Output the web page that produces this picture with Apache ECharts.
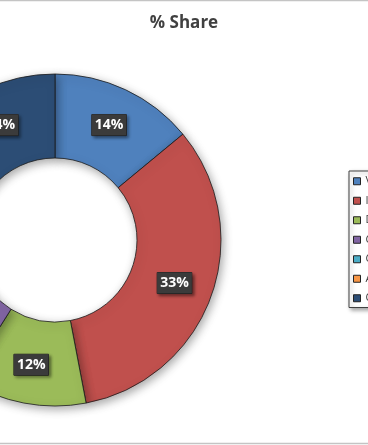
<!DOCTYPE html>
<html>
<head>
<meta charset="utf-8">
<script src="https://cdn.jsdelivr.net/npm/echarts@6/dist/echarts.min.js"></script>
<style>html,body{margin:0;padding:0;background:#fff;}#c{width:368px;height:445px;}</style>
</head>
<body>
<div id="c"></div>
<script>
const categories = ['Vanguard', 'Invesco', 'Dimensional', 'Capital Group', 'Columbia', 'American Funds', 'Others'];
const shares = [14, 33, 12, 5, 9, 13, 14];
const colors = ['#4F81BD', '#C0504D', '#9BBB59', '#8064A2', '#4BACC6', '#F79646', '#2C4D75'];

const chart = echarts.init(document.getElementById('c'), null, {renderer: 'canvas'});
chart.setOption({
  animation: false,
  backgroundColor: '#fff',
  title: {
    text: '% Share',
    left: 'center',
    top: 10,
    textStyle: {fontFamily: 'Open Sans', fontWeight: 'bold', fontSize: 17, color: '#404040'}
  },
  graphic: [{
    type: 'rect', silent: true, z: -1,
    shape: {x: -5, y: 0.5, width: 378, height: 443},
    style: {fill: 'none', stroke: '#c4c4c4', lineWidth: 1.5}
  }],
  legend: {
    orient: 'vertical',
    left: 349, top: 171,
    data: categories,
    icon: 'rect',
    itemWidth: 7, itemHeight: 7,
    itemGap: 7,
    padding: [4, 6, 3, 4],
    backgroundColor: '#fff',
    borderColor: '#404040', borderWidth: 1,
    shadowBlur: 4, shadowColor: 'rgba(0,0,0,0.35)', shadowOffsetX: 2, shadowOffsetY: 2,
    itemStyle: {borderColor: '#222', borderWidth: 1},
    textStyle: {fontFamily: 'Open Sans', fontSize: 11, color: '#404040', lineHeight: 12.5}
  },
  series: [{
    type: 'pie',
    center: [55, 240],
    radius: [82, 166],
    startAngle: 90,
    clockwise: true,
    avoidLabelOverlap: false,
    data: categories.map((n, i) => ({name: n, value: shares[i], itemStyle: {color: colors[i]}})),
    itemStyle: {
      borderColor: '#1a1a1a', borderWidth: 0.8,
      shadowBlur: 10, shadowColor: 'rgba(0,0,0,0.35)', shadowOffsetX: 2, shadowOffsetY: 3
    },
    label: {
      show: true,
      position: 'inside',
      formatter: '{c}%',
      fontFamily: 'Open Sans', fontWeight: 'bold', fontSize: 14, color: '#fff',
      backgroundColor: '#3b3b3b',
      borderColor: '#222', borderWidth: 0.5,
      padding: [4, 3, 3, 3],
      shadowBlur: 3, shadowColor: 'rgba(0,0,0,0.45)', shadowOffsetX: 2, shadowOffsetY: 2
    },
    labelLine: {show: false},
    emphasis: {disabled: true}
  }]
});
</script>
</body>
</html>
